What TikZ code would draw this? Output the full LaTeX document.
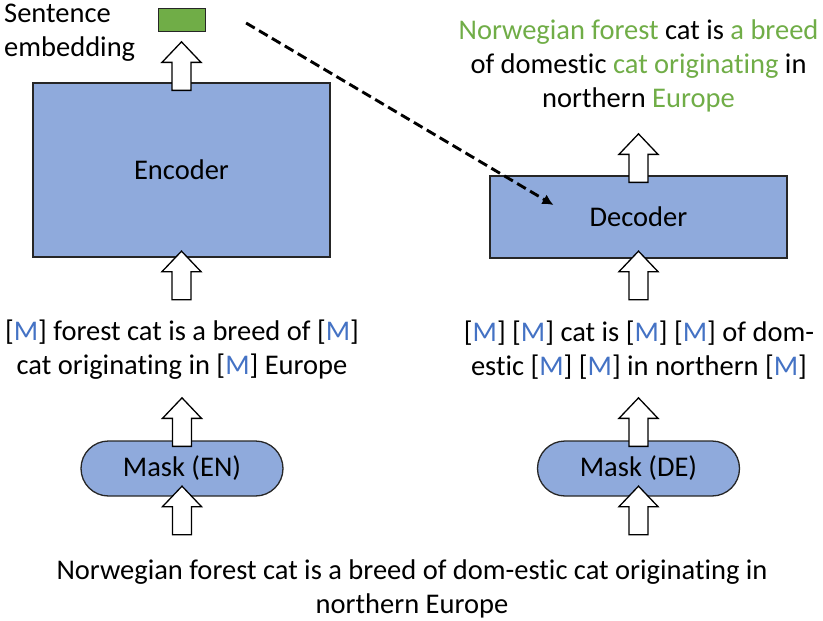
\documentclass[tikz,border=0pt]{standalone}
\usepackage{fontspec}
\setmainfont{Carlito}[Ligatures=NoCommon]
\usetikzlibrary{positioning, calc, arrows.meta, shapes.misc}
\definecolor{boxblue}{HTML}{8FAADC}
\definecolor{tokenblue}{HTML}{4472C4}
\definecolor{keepgreen}{HTML}{70AD47}
\newcommand{\maskM}{[\textcolor{tokenblue}{M}]}
\newcommand{\keep}[1]{\textcolor{keepgreen}{#1}}

\tikzset{
  block/.style={draw=black!85, line width=1.3pt, fill=boxblue},
  maskbox/.style={rounded rectangle, draw=black!85, line width=1.3pt, fill=boxblue,
    minimum width=202pt, minimum height=55pt},
  txt/.style={align=center},
  blockarrow/.pic={
    \draw[fill=white, line width=1.3pt, line join=miter]
      (-9.5,0) -- (-9.5,-28) -- (-19.5,-28) -- (0,-48.5) -- (19.5,-28) -- (9.5,-28) -- (9.5,0) -- cycle;
  },
}

\begin{document}
\begin{tikzpicture}[x=1pt, y=-1pt, every node/.style={font=\fontsize{28.5}{34}\selectfont, inner sep=0pt}]
    \useasboundingbox (0,0) rectangle (823,621);

    % Encoder side
    \node[block, minimum width=297pt, minimum height=174pt] (enc) at (181.5,170) {Encoder};
    \node[draw=black!85, line width=1.2pt, fill=keepgreen, minimum width=47pt, minimum height=23pt] (emb) at (182,20) {};
    \node[align=left, anchor=west] (emb-label) at (4,33) {Sentence\\embedding};
    \node[txt] (in-en) at (182,350) {\maskM{} forest cat is a breed of \maskM\\cat originating in \maskM{} Europe};
    \node[maskbox] (mask-en) at (182,468.5) {Mask (EN)};

    % Decoder side
    \node[block, minimum width=297pt, minimum height=82pt] (dec) at (638.5,217) {Decoder};
    \node[txt] (out-de) at (638.5,66) {\keep{Norwegian forest} cat is \keep{a breed}\\of domestic \keep{cat originating} in\\northern \keep{Europe}};
    \node[txt] (in-de) at (639,350) {\maskM{} \maskM{} cat is \maskM{} \maskM{} of dom-\\estic \maskM{} \maskM{} in northern \maskM};
    \node[maskbox] (mask-de) at (638.5,468.5) {Mask (DE)};

    % Source sentence
    \node[txt] (src) at (412,589) {Norwegian forest cat is a breed of dom-estic cat originating in\\northern Europe};

    % Block arrows
    \pic at ($(enc.north)+(0,8)$) {blockarrow};
    \pic at ($(enc.south)+(0,42)$) {blockarrow};
    \pic at ($(mask-en.north)+(0,6)$) {blockarrow};
    \pic at ($(mask-en.south)+(0,38)$) {blockarrow};
    \pic at ($(dec.north)+(0,7)$) {blockarrow};
    \pic at ($(dec.south)+(0,41)$) {blockarrow};
    \pic at ($(mask-de.north)+(0,6)$) {blockarrow};
    \pic at ($(mask-de.south)+(0,38)$) {blockarrow};

    % Embedding to decoder
    \coordinate (dash-start) at ($(emb.east)+(40,3)$);
    \coordinate (dash-end) at ($(dec.center)+(-85,-12)$);
    \draw[line width=2.9pt, dash pattern=on 10pt off 5pt, -{Latex[length=11pt,width=11pt]}] (dash-start) -- (dash-end);
\end{tikzpicture}
\end{document}
